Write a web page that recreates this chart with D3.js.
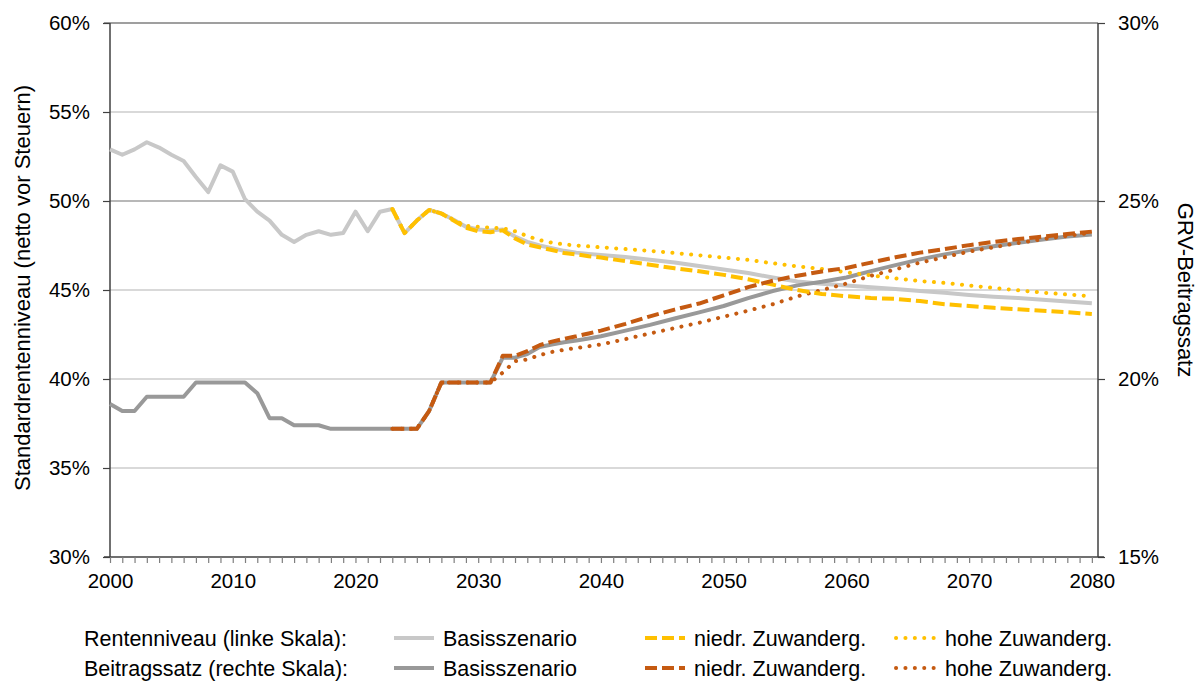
<!doctype html>
<html lang="de">
<head>
<meta charset="utf-8">
<title>Rentenniveau und Beitragssatz</title>
<script src="https://cdnjs.cloudflare.com/ajax/libs/d3/7.8.5/d3.min.js"></script>
<style>
  body { margin: 0; background: #fff; }
  svg text { font-family: "Liberation Sans", Arial, sans-serif; fill: #000; }
</style>
</head>
<body>
<svg id="chart" width="1198" height="681"></svg>
<script>
  //
  // Data
  //

  var years = [
    2000, 2001, 2002, 2003, 2004, 2005, 2006, 2007, 2008, 2009,
    2010, 2011, 2012, 2013, 2014, 2015, 2016, 2017, 2018, 2019,
    2020, 2021, 2022, 2023, 2024, 2025, 2026, 2027, 2028, 2029,
    2030, 2031, 2032, 2033, 2034, 2035, 2036, 2037, 2038, 2039, 2040,
    2042, 2044, 2046, 2048, 2050, 2052, 2054, 2056, 2058, 2060,
    2062, 2064, 2066, 2068, 2070, 2072, 2074, 2076, 2078, 2080
  ]

  // Rentenniveau (left scale)
  var rnBasis = [
    52.9, 52.6, 52.9, 53.3, 53.0, 52.6, 52.25, 51.35, 50.5, 52.0,
    51.65, 50.1, 49.4, 48.9, 48.1, 47.7, 48.1, 48.3, 48.1, 48.2,
    49.4, 48.3, 49.4, 49.55, 48.2, 48.9, 49.5, 49.3, 48.95, 48.55,
    48.4, 48.35, 48.4, 48.0, 47.7, 47.5, 47.35, 47.2, 47.1, 47.03, 46.97,
    46.85, 46.7, 46.55, 46.35, 46.15, 45.95, 45.7, 45.48, 45.35, 45.25,
    45.15, 45.05, 44.95, 44.85, 44.72, 44.62, 44.55, 44.45, 44.35, 44.25
  ]
  var rnNiedrig = [
    null, null, null, null, null, null, null, null, null, null,
    null, null, null, null, null, null, null, null, null, null,
    null, null, null, 49.55, 48.2, 48.9, 49.5, 49.3, 48.9, 48.5,
    48.3, 48.25, 48.35, 47.9, 47.55, 47.4, 47.25, 47.08, 47.0, 46.9, 46.82,
    46.62, 46.42, 46.22, 46.05, 45.85, 45.6, 45.3, 45.0, 44.78, 44.65,
    44.55, 44.5, 44.38, 44.2, 44.1, 44.0, 43.92, 43.83, 43.75, 43.65
  ]
  var rnHoch = [
    null, null, null, null, null, null, null, null, null, null,
    null, null, null, null, null, null, null, null, null, null,
    null, null, null, 49.55, 48.2, 48.9, 49.5, 49.3, 48.95, 48.6,
    48.55, 48.5, 48.47, 48.3, 48.03, 47.8, 47.66, 47.56, 47.5, 47.45, 47.4,
    47.3, 47.2, 47.08, 46.95, 46.82, 46.69, 46.5, 46.33, 46.18, 46.0,
    45.82, 45.65, 45.5, 45.4, 45.25, 45.12, 44.98, 44.85, 44.75, 44.65
  ]

  // Beitragssatz (right scale)
  var bsBasis = [
    19.3, 19.1, 19.1, 19.5, 19.5, 19.5, 19.5, 19.9, 19.9, 19.9,
    19.9, 19.9, 19.6, 18.9, 18.9, 18.7, 18.7, 18.7, 18.6, 18.6,
    18.6, 18.6, 18.6, 18.6, 18.6, 18.6, 19.1, 19.9, 19.9, 19.9,
    19.9, 19.9, 20.6, 20.6, 20.7, 20.9, 20.97, 21.03, 21.08, 21.14, 21.2,
    21.36, 21.52, 21.7, 21.87, 22.05, 22.27, 22.47, 22.63, 22.73, 22.85,
    23.03, 23.2, 23.36, 23.5, 23.62, 23.73, 23.83, 23.92, 24.0, 24.06
  ]
  var bsNiedrig = [
    null, null, null, null, null, null, null, null, null, null,
    null, null, null, null, null, null, null, null, null, null,
    null, null, null, 18.6, 18.6, 18.6, 19.1, 19.9, 19.9, 19.9,
    19.9, 19.9, 20.65, 20.65, 20.78, 20.95, 21.05, 21.13, 21.2, 21.28, 21.36,
    21.55, 21.76, 21.95, 22.12, 22.35, 22.58, 22.76, 22.9, 23.02, 23.12,
    23.27, 23.42, 23.55, 23.65, 23.76, 23.85, 23.93, 24.0, 24.07, 24.14
  ]
  var bsHoch = [
    null, null, null, null, null, null, null, null, null, null,
    null, null, null, null, null, null, null, null, null, null,
    null, null, null, 18.6, 18.6, 18.6, 19.1, 19.9, 19.9, 19.9,
    19.9, 19.9, 20.18, 20.5, 20.55, 20.67, 20.76, 20.82, 20.87, 20.92, 20.97,
    21.12, 21.28, 21.43, 21.58, 21.75, 21.92, 22.1, 22.32, 22.5, 22.68,
    22.9, 23.08, 23.27, 23.42, 23.58, 23.7, 23.82, 23.93, 24.02, 24.11
  ]

  var leftTicks = [30, 35, 40, 45, 50, 55, 60]
  var rightTicks = [15, 20, 25, 30]
  var yearLabels = [2000, 2010, 2020, 2030, 2040, 2050, 2060, 2070, 2080]

  //
  // Configuration
  //

  var colorRnBasis = '#c8c8c8'
  var colorBsBasis = '#999999'
  var colorYellow = '#ffc000'
  var colorOrange = '#c55a11'
  var fontSize = 20.5
  var titleFontSize = 22
  var legendFontSize = 21.5

  var plotLeft = 110, plotRight = 1098, plotTop = 23, plotBottom = 557

  var svg = d3.select('#chart')
  var x = d3.scaleLinear().domain([2000, 2080.5]).range([plotLeft, plotRight])
  var yL = d3.scaleLinear().domain([30, 60]).range([plotBottom, plotTop])
  var yR = d3.scaleLinear().domain([15, 30]).range([plotBottom, plotTop])

  //
  // Grid
  //

  svg.append('g')
    .selectAll('line')
    .data(leftTicks.filter(function (d) { return d > 30 && d < 60 }))
    .join('line')
    .attr('x1', plotLeft).attr('x2', plotRight)
    .attr('y1', function (d) { return yL(d) }).attr('y2', function (d) { return yL(d) })
    .attr('stroke', function (d) { return d === 50 ? '#a0a0a0' : '#cccccc' })
    .attr('stroke-width', 1.5)

  svg.append('line')
    .attr('x1', plotLeft - 6).attr('x2', plotRight)
    .attr('y1', yL(60)).attr('y2', yL(60))
    .attr('stroke', '#404040').attr('stroke-width', 1.2)

  //
  // Axes
  //

  var axisLeft = svg.append('g')
    .attr('transform', 'translate(' + plotLeft + ',0)')
    .call(d3.axisLeft(yL).tickValues(leftTicks).tickSize(7).tickPadding(13)
      .tickFormat(function (d) { return d + '%' }))
  var axisRight = svg.append('g')
    .attr('transform', 'translate(' + plotRight + ',0)')
    .call(d3.axisRight(yR).tickValues(rightTicks).tickSize(7).tickPadding(13)
      .tickFormat(function (d) { return d + '%' }))
  var axisBottom = svg.append('g')
    .attr('transform', 'translate(0,' + plotBottom + ')')
    .call(d3.axisBottom(x).tickValues(d3.range(2000, 2081)).tickSize(6)
      .tickFormat(function (d) { return yearLabels.indexOf(d) >= 0 ? d : '' }))

  ;[axisLeft, axisRight, axisBottom].forEach(function (a) {
    a.select('.domain').attr('stroke', '#404040').attr('stroke-width', 1.5)
    a.selectAll('.tick line').attr('stroke', '#7f7f7f').attr('stroke-width', 1.2)
    a.selectAll('text').attr('font-size', fontSize).attr('font-family', null)
  })
  axisLeft.select('.domain').attr('d', 'M0,' + plotTop + 'V' + plotBottom)
  axisRight.select('.domain').attr('d', 'M0,' + plotTop + 'V' + plotBottom)
  axisBottom.select('.domain').attr('d', 'M' + (plotLeft - 6) + ',0H' + (plotRight + 6))
  axisBottom.selectAll('text').attr('dy', '1.05em')
  axisLeft.selectAll('.tick line').attr('stroke', '#404040')
  axisRight.selectAll('.tick line').attr('stroke', '#404040')

  svg.append('text')
    .attr('transform', 'translate(30,' + ((plotTop + plotBottom) / 2 - 2) + ') rotate(-90)')
    .attr('text-anchor', 'middle')
    .attr('font-size', titleFontSize)
    .text('Standardrentenniveau (netto vor Steuern)')

  svg.append('text')
    .attr('transform', 'translate(1178,' + ((plotTop + plotBottom) / 2) + ') rotate(90)')
    .attr('text-anchor', 'middle')
    .attr('font-size', titleFontSize)
    .text('GRV-Beitragssatz')

  //
  // Lines
  //

  var styles = {
    solid: { dash: null, cap: 'butt', width: 4 },
    dashed: { dash: '12,5', cap: 'butt', width: 4 },
    dotted: { dash: '0.1,9.3', cap: 'round', width: 4 }
  }

  function drawLine(values, scale, color, style) {
    var s = styles[style]
    var line = d3.line()
      .defined(function (d, i) { return values[i] != null })
      .x(function (d, i) { return x(years[i]) })
      .y(function (d, i) { return scale(values[i]) })
    svg.append('path')
      .datum(values)
      .attr('d', line)
      .attr('fill', 'none')
      .attr('stroke', color)
      .attr('stroke-width', s.width)
      .attr('stroke-dasharray', s.dash)
      .attr('stroke-linecap', s.cap)
      .attr('stroke-linejoin', 'round')
  }

  drawLine(rnBasis, yL, colorRnBasis, 'solid')
  drawLine(bsBasis, yR, colorBsBasis, 'solid')
  drawLine(rnHoch, yL, colorYellow, 'dotted')
  drawLine(bsHoch, yR, colorOrange, 'dotted')
  drawLine(rnNiedrig, yL, colorYellow, 'dashed')
  drawLine(bsNiedrig, yR, colorOrange, 'dashed')

  //
  // Legend
  //

  var legendRows = ['Rentenniveau (linke Skala):', 'Beitragssatz (rechte Skala):']
  var legendItems = ['Basisszenario', 'niedr. Zuwanderg.', 'hohe Zuwanderg.']
  var legendColors = [[colorRnBasis, colorYellow, colorYellow], [colorBsBasis, colorOrange, colorOrange]]
  var legendStyles = ['solid', 'dashed', 'dotted']
  var sampleX = [394, 645, 896]
  var rowY = [638, 668]

  legendRows.forEach(function (label, r) {
    svg.append('text')
      .attr('x', 84).attr('y', rowY[r])
      .attr('dy', '0.35em')
      .attr('font-size', legendFontSize)
      .text(label)
    legendItems.forEach(function (item, k) {
      var s = styles[legendStyles[k]]
      svg.append('line')
        .attr('x1', sampleX[k]).attr('x2', sampleX[k] + 40)
        .attr('y1', rowY[r]).attr('y2', rowY[r])
        .attr('stroke', legendColors[r][k])
        .attr('stroke-width', s.width)
        .attr('stroke-dasharray', s.dash)
        .attr('stroke-linecap', s.cap)
      svg.append('text')
        .attr('x', sampleX[k] + 49).attr('y', rowY[r])
        .attr('dy', '0.35em')
        .attr('font-size', legendFontSize)
        .text(item)
    })
  })
</script>
</body>
</html>
